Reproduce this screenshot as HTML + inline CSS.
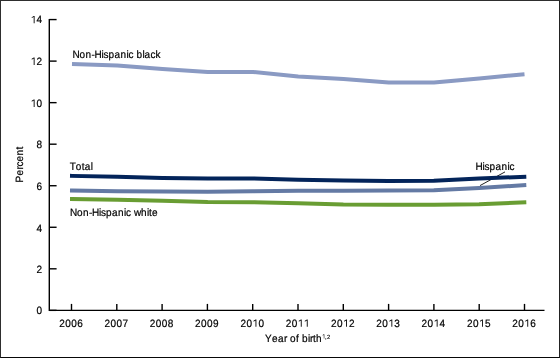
<!DOCTYPE html>
<html><head><meta charset="utf-8"><style>
html,body{margin:0;padding:0;background:#fff;}
body{width:560px;height:359px;overflow:hidden;position:relative;}
.frame{position:absolute;left:0;top:0;width:558px;height:356px;border:1px solid #2e2e2e;border-bottom-color:#080808;border-right-color:#222;}
svg{position:absolute;left:0;top:0;}
.t{will-change:transform;}
.t text{font-family:"Liberation Sans",sans-serif;font-size:10.0px;fill:#000;stroke:#000;stroke-width:0.2px;text-rendering:geometricPrecision;font-kerning:none;}
.t path{fill:#000;stroke:#000;stroke-width:0.2px;}
.t .s{stroke-width:0.12px;}
.t .o{fill:transparent;stroke:transparent;}
</style></head><body>
<div class="frame"></div>
<svg width="560" height="359" viewBox="0 0 560 359">
<path d="M49.3,18.9 V310.35 H544.5" fill="none" stroke="#000" stroke-width="1.4"/>
<path d="M49.3,310.35 H56.6" stroke="#000" stroke-width="1.4"/>
<path d="M49.3,268.81 H56.6" stroke="#000" stroke-width="1.4"/>
<path d="M49.3,227.27 H56.6" stroke="#000" stroke-width="1.4"/>
<path d="M49.3,185.73 H56.6" stroke="#000" stroke-width="1.4"/>
<path d="M49.3,144.19 H56.6" stroke="#000" stroke-width="1.4"/>
<path d="M49.3,102.65 H56.6" stroke="#000" stroke-width="1.4"/>
<path d="M49.3,61.11 H56.6" stroke="#000" stroke-width="1.4"/>
<path d="M49.3,19.57 H56.6" stroke="#000" stroke-width="1.4"/>
<path d="M71.5,303.9 V310.35" stroke="#000" stroke-width="1.4"/>
<path d="M116.8,303.9 V310.35" stroke="#000" stroke-width="1.4"/>
<path d="M162.1,303.9 V310.35" stroke="#000" stroke-width="1.4"/>
<path d="M207.4,303.9 V310.35" stroke="#000" stroke-width="1.4"/>
<path d="M252.7,303.9 V310.35" stroke="#000" stroke-width="1.4"/>
<path d="M298.0,303.9 V310.35" stroke="#000" stroke-width="1.4"/>
<path d="M343.3,303.9 V310.35" stroke="#000" stroke-width="1.4"/>
<path d="M388.6,303.9 V310.35" stroke="#000" stroke-width="1.4"/>
<path d="M433.9,303.9 V310.35" stroke="#000" stroke-width="1.4"/>
<path d="M479.2,303.9 V310.35" stroke="#000" stroke-width="1.4"/>
<path d="M524.5,303.9 V310.35" stroke="#000" stroke-width="1.4"/>
<path d="M505,171.9 L480,185.6" stroke="#222" stroke-width="1"/>
<polyline points="72.00,63.90 117.25,65.40 162.50,69.10 207.75,72.00 253.00,72.00 298.25,76.40 343.50,79.00 388.75,82.60 434.00,82.40 479.25,78.40 524.50,74.30" fill="none" stroke="#8a9ac3" stroke-width="4" stroke-linejoin="round"/>
<polyline points="72.00,175.90 117.23,176.80 162.46,178.00 207.69,178.50 252.92,178.40 298.15,179.80 343.38,180.60 388.61,180.90 433.84,180.80 479.07,178.60 524.30,176.80" fill="none" stroke="#03245a" stroke-width="4" stroke-linejoin="round" stroke-linecap="square"/>
<polyline points="72.00,190.60 117.23,191.30 162.46,191.60 207.69,191.80 252.92,191.30 298.15,190.70 343.38,190.70 388.61,190.40 433.84,190.30 479.07,188.00 524.30,185.10" fill="none" stroke="#647aa4" stroke-width="4" stroke-linejoin="round" stroke-linecap="square"/>
<polyline points="72.00,199.10 117.23,199.80 162.46,200.80 207.69,202.10 252.92,202.30 298.15,203.30 343.38,204.60 388.61,204.70 433.84,204.70 479.07,204.20 524.30,202.40" fill="none" stroke="#699d33" stroke-width="4" stroke-linejoin="round" stroke-linecap="square"/>
</svg>
<svg class="t" width="560" height="359" viewBox="0 0 560 359">
<g transform="translate(42.60,313.90) scale(1,1.06)"><text x="-6.00" y="0">0</text></g>
<g transform="translate(42.60,272.90) scale(1,1.06)"><text x="-6.00" y="0">2</text></g>
<g transform="translate(42.60,231.50) scale(1,1.06)"><text x="-6.00" y="0">4</text></g>
<g transform="translate(42.60,190.00) scale(1,1.06)"><text x="-6.00" y="0">6</text></g>
<g transform="translate(42.60,148.00) scale(1,1.06)"><text x="-6.00" y="0">8</text></g>
<g transform="translate(42.60,106.90) scale(1,1.06)"><text x="-12.00 -6.00" y="0"><tspan class="o">1</tspan>0</text><path d="M635,0 L635,1220 L230,990 L230,1170 L660,1409 L816,1409 L816,0 Z" transform="translate(-12.000,0) scale(0.004883,-0.004883)"/></g>
<g transform="translate(42.60,64.90) scale(1,1.06)"><text x="-12.00 -6.00" y="0"><tspan class="o">1</tspan>2</text><path d="M635,0 L635,1220 L230,990 L230,1170 L660,1409 L816,1409 L816,0 Z" transform="translate(-12.000,0) scale(0.004883,-0.004883)"/></g>
<g transform="translate(42.60,23.20) scale(1,1.06)"><text x="-12.00 -6.00" y="0"><tspan class="o">1</tspan>4</text><path d="M635,0 L635,1220 L230,990 L230,1170 L660,1409 L816,1409 L816,0 Z" transform="translate(-12.000,0) scale(0.004883,-0.004883)"/></g>
<g transform="translate(71.20,326.80) scale(1,1.06)"><text x="-12.00 -6.00 0.00 6.00" y="0">2006</text></g>
<g transform="translate(116.50,326.80) scale(1,1.06)"><text x="-12.00 -6.00 0.00 6.00" y="0">2007</text></g>
<g transform="translate(161.80,326.80) scale(1,1.06)"><text x="-12.00 -6.00 0.00 6.00" y="0">2008</text></g>
<g transform="translate(207.10,326.80) scale(1,1.06)"><text x="-12.00 -6.00 0.00 6.00" y="0">2009</text></g>
<g transform="translate(252.40,326.80) scale(1,1.06)"><text x="-12.00 -6.00 0.00 6.00" y="0">20<tspan class="o">1</tspan>0</text><path d="M635,0 L635,1220 L230,990 L230,1170 L660,1409 L816,1409 L816,0 Z" transform="translate(0.000,0) scale(0.004883,-0.004883)"/></g>
<g transform="translate(297.70,326.80) scale(1,1.06)"><text x="-12.00 -6.00 0.00 6.00" y="0">20<tspan class="o">1</tspan><tspan class="o">1</tspan></text><path d="M635,0 L635,1220 L230,990 L230,1170 L660,1409 L816,1409 L816,0 Z" transform="translate(0.000,0) scale(0.004883,-0.004883)"/><path d="M635,0 L635,1220 L230,990 L230,1170 L660,1409 L816,1409 L816,0 Z" transform="translate(6.000,0) scale(0.004883,-0.004883)"/></g>
<g transform="translate(343.00,326.80) scale(1,1.06)"><text x="-12.00 -6.00 0.00 6.00" y="0">20<tspan class="o">1</tspan>2</text><path d="M635,0 L635,1220 L230,990 L230,1170 L660,1409 L816,1409 L816,0 Z" transform="translate(0.000,0) scale(0.004883,-0.004883)"/></g>
<g transform="translate(388.30,326.80) scale(1,1.06)"><text x="-12.00 -6.00 0.00 6.00" y="0">20<tspan class="o">1</tspan>3</text><path d="M635,0 L635,1220 L230,990 L230,1170 L660,1409 L816,1409 L816,0 Z" transform="translate(0.000,0) scale(0.004883,-0.004883)"/></g>
<g transform="translate(433.60,326.80) scale(1,1.06)"><text x="-12.00 -6.00 0.00 6.00" y="0">20<tspan class="o">1</tspan>4</text><path d="M635,0 L635,1220 L230,990 L230,1170 L660,1409 L816,1409 L816,0 Z" transform="translate(0.000,0) scale(0.004883,-0.004883)"/></g>
<g transform="translate(478.90,326.80) scale(1,1.06)"><text x="-12.00 -6.00 0.00 6.00" y="0">20<tspan class="o">1</tspan>5</text><path d="M635,0 L635,1220 L230,990 L230,1170 L660,1409 L816,1409 L816,0 Z" transform="translate(0.000,0) scale(0.004883,-0.004883)"/></g>
<g transform="translate(524.20,326.80) scale(1,1.06)"><text x="-12.00 -6.00 0.00 6.00" y="0">20<tspan class="o">1</tspan>6</text><path d="M635,0 L635,1220 L230,990 L230,1170 L660,1409 L816,1409 L816,0 Z" transform="translate(0.000,0) scale(0.004883,-0.004883)"/></g>
<g transform="translate(72.50,57.80) scale(1,1.06)"><text x="0.00 7.00 13.00 19.00 22.00 29.00 31.00 36.00 42.00 48.00 54.00 56.00 61.00 64.00 70.00 72.00 78.00 83.00" y="0">Non-Hispanic black</text></g>
<g transform="translate(69.80,170.00) scale(1,1.06)"><text x="0.00 6.00 12.00 15.00 21.00" y="0">Total</text></g>
<g transform="translate(70.10,216.00) scale(1,1.06)"><text x="0.00 7.00 13.00 19.00 22.00 29.00 31.00 36.00 42.00 48.00 54.00 56.00 61.00 64.00 71.00 77.00 79.00 82.00" y="0">Non-Hispanic white</text></g>
<g transform="translate(475.60,169.80) scale(1,1.06)"><text x="0.00 7.00 9.00 14.00 20.00 26.00 32.00 34.00" y="0">Hispanic</text></g>
<g transform="translate(23.00,164.50) rotate(-90) scale(1,1.06)"><text x="-18.00 -11.00 -5.00 -2.00 3.00 9.00 15.00" y="0">Percent</text></g>
<g transform="translate(265.00,342.00) scale(1,1.06)"><text x="0.00 7.00 13.00 19.00 22.00 25.00 31.00 34.00 37.00 43.00 45.00 48.00 51.00" y="0">Year of birth</text><text class="s" x="57.00 60.00 62.00" y="-3.25" style="font-size:5.8px"><tspan class="o">1</tspan>,2</text><path class="s" d="M635,0 L635,1220 L230,990 L230,1170 L660,1409 L816,1409 L816,0 Z" transform="translate(57.000,-3.25) scale(0.002832,-0.002832)"/></g>
</svg>
</body></html>
